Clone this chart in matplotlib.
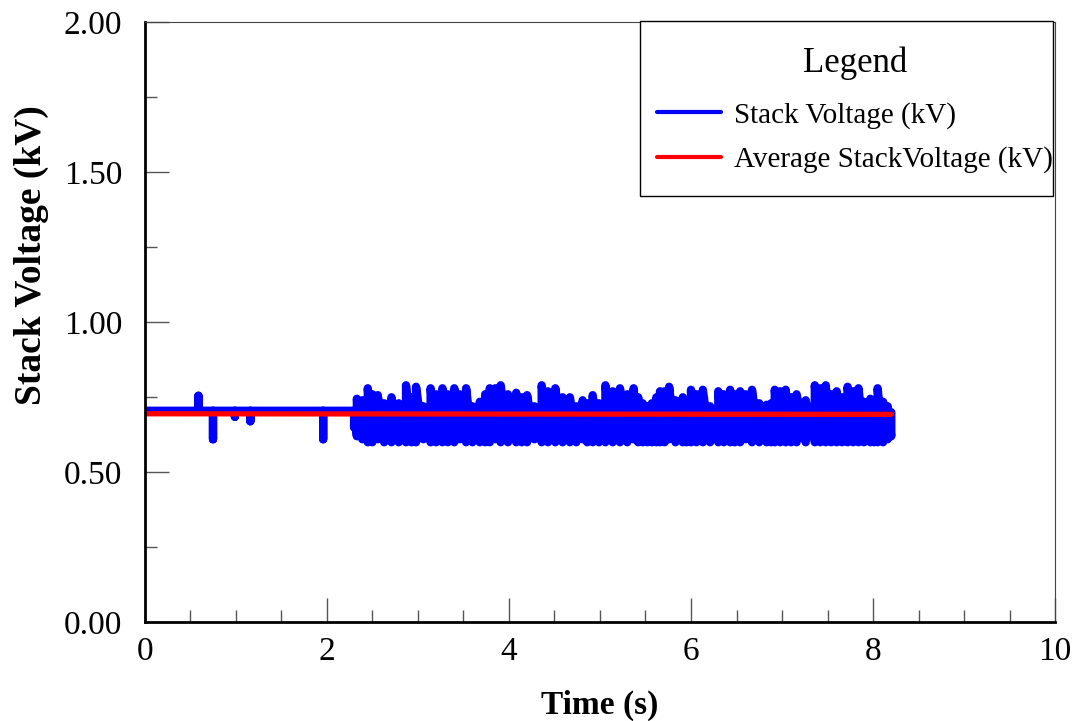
import numpy as np
import matplotlib
matplotlib.use("Agg")
import matplotlib.pyplot as plt
from matplotlib import ticker
from matplotlib.patches import Rectangle

# steady part before the switching starts (time, voltage)
steady_t = [0.00, 0.59, 0.59, 0.59, 0.75, 0.75, 0.75, 0.99, 0.99, 0.99,
            1.16, 1.16, 1.16, 1.96, 1.96, 1.96, 2.30]
steady_v = [0.705, 0.705, 0.755, 0.705, 0.705, 0.61, 0.705, 0.705, 0.685, 0.705,
            0.705, 0.67, 0.705, 0.705, 0.61, 0.705, 0.705]

# switching part: time of each sample, its high and low level
noise_t = [2.30, 2.33, 2.39, 2.45, 2.50, 2.56, 2.63, 2.71, 2.79, 2.87,
           2.93, 2.98, 3.06, 3.14, 3.20, 3.27, 3.33, 3.40, 3.46, 3.53,
           3.60, 3.68, 3.74, 3.79, 3.85, 3.91, 3.99, 4.08, 4.14, 4.20,
           4.28, 4.36, 4.43, 4.51, 4.59, 4.67, 4.74, 4.81, 4.86, 4.92,
           4.99, 5.06, 5.14, 5.22, 5.30, 5.37, 5.42, 5.47, 5.52, 5.57,
           5.62, 5.66, 5.71, 5.76, 5.83, 5.91, 5.95, 6.00, 6.06, 6.13,
           6.21, 6.30, 6.36, 6.43, 6.48, 6.54, 6.60, 6.67, 6.75, 6.83,
           6.88, 6.92, 6.98, 7.04, 7.10, 7.16, 7.26, 7.36, 7.42, 7.48,
           7.54, 7.60, 7.66, 7.72, 7.78, 7.84, 7.90, 7.97, 8.01, 8.05,
           8.11, 8.16, 8.20]
noise_hi = [0.70, 0.745, 0.74, 0.78, 0.76, 0.757, 0.73, 0.75, 0.73, 0.79,
            0.75, 0.785, 0.72, 0.78, 0.76, 0.78, 0.76, 0.78, 0.76, 0.78,
            0.72, 0.735, 0.76, 0.78, 0.78, 0.79, 0.76, 0.765, 0.75, 0.757,
            0.72, 0.79, 0.77, 0.78, 0.75, 0.75, 0.72, 0.74, 0.73, 0.757,
            0.73, 0.79, 0.77, 0.78, 0.76, 0.78, 0.75, 0.73, 0.72, 0.73,
            0.75, 0.77, 0.77, 0.785, 0.74, 0.75, 0.74, 0.775, 0.76, 0.775,
            0.72, 0.77, 0.76, 0.775, 0.76, 0.77, 0.76, 0.775, 0.73, 0.725,
            0.73, 0.775, 0.77, 0.775, 0.75, 0.76, 0.74, 0.79, 0.78, 0.79,
            0.76, 0.77, 0.75, 0.785, 0.77, 0.78, 0.735, 0.745, 0.74, 0.78,
            0.735, 0.72, 0.70]
noise_lo = [0.65, 0.62, 0.61, 0.60, 0.60, 0.61, 0.60, 0.60, 0.60, 0.60,
            0.60, 0.60, 0.61, 0.60, 0.60, 0.60, 0.60, 0.60, 0.61, 0.60,
            0.60, 0.60, 0.60, 0.60, 0.61, 0.60, 0.60, 0.60, 0.60, 0.60,
            0.61, 0.60, 0.60, 0.60, 0.60, 0.60, 0.60, 0.61, 0.60, 0.60,
            0.60, 0.60, 0.60, 0.60, 0.60, 0.61, 0.60, 0.60, 0.60, 0.60,
            0.60, 0.60, 0.60, 0.61, 0.60, 0.60, 0.60, 0.60, 0.60, 0.60,
            0.60, 0.60, 0.60, 0.60, 0.60, 0.60, 0.61, 0.60, 0.60, 0.60,
            0.60, 0.60, 0.60, 0.60, 0.60, 0.60, 0.60, 0.60, 0.60, 0.60,
            0.60, 0.60, 0.60, 0.60, 0.60, 0.60, 0.60, 0.60, 0.60, 0.60,
            0.60, 0.61, 0.62]

avg_t = [0.0, 8.20]
avg_v = [0.695, 0.693]

plt.rcParams['font.family'] = ['Liberation Serif', 'DejaVu Serif']

# each switching sample drawn as low -> high at the same time
sw_t = np.repeat(noise_t, 2)
sw_v = np.column_stack([noise_lo, noise_hi]).ravel()
stack_t = np.concatenate([steady_t, sw_t])
stack_v = np.concatenate([steady_v, sw_v])

fig = plt.figure(figsize=(10.8, 7.21), dpi=100)
ax = fig.add_axes([0.134, 0.137, 0.843, 0.832])

ax.plot(stack_t, stack_v, color='#0000ff', lw=6.0, solid_capstyle='round',
        solid_joinstyle='round', label='Stack Voltage (kV)')
ax.plot(avg_t, avg_v, color='#ff0000', lw=3.8, solid_capstyle='round',
        label='Average StackVoltage (kV)')

ax.set_xlim(0, 10)
ax.set_ylim(0, 2)
ax.xaxis.set_major_locator(ticker.MultipleLocator(2))
ax.xaxis.set_minor_locator(ticker.MultipleLocator(0.5))
ax.yaxis.set_major_locator(ticker.MultipleLocator(0.5))
ax.yaxis.set_minor_locator(ticker.MultipleLocator(0.25))
ax.yaxis.set_major_formatter(ticker.FormatStrFormatter('%.2f'))

ax.tick_params(which='both', direction='in', top=False, right=False,
               color='#555555', width=1, labelsize=24)
ax.tick_params(which='major', length=17)
ax.tick_params(which='minor', length=8.5)
ax.tick_params(axis='x', pad=10)
ax.tick_params(axis='y', pad=16)

for side in ['left', 'bottom']:
    ax.spines[side].set_linewidth(2)
for side in ['top', 'right']:
    ax.spines[side].set_linewidth(0.8)
    ax.spines[side].set_color('#444444')

ax.set_xlabel('Time (s)', fontsize=24, fontweight='bold', labelpad=17)
ax.set_ylabel('Stack Voltage (kV)', fontsize=27, fontweight='bold')
ax.yaxis.set_label_coords(-0.105, 0.612)

# legend box drawn separately so the padding can match the original
box = Rectangle((0.544, 0.71), 0.454, 0.293, transform=ax.transAxes,
                facecolor='white', edgecolor='black', lw=1, clip_on=False, zorder=4)
ax.add_patch(box)
leg = ax.legend(title='Legend', loc='upper left', bbox_to_anchor=(0.5626, 0.960),
                fontsize=21, title_fontsize=25, frameon=False,
                handlelength=2.2, handletextpad=0.45, borderpad=0,
                borderaxespad=0, labelspacing=0.6)
leg.set_zorder(5)
leg._legend_box.sep = 16
for line in leg.get_lines():
    line.set_linewidth(3)

fig.savefig('out.png', dpi=100)
